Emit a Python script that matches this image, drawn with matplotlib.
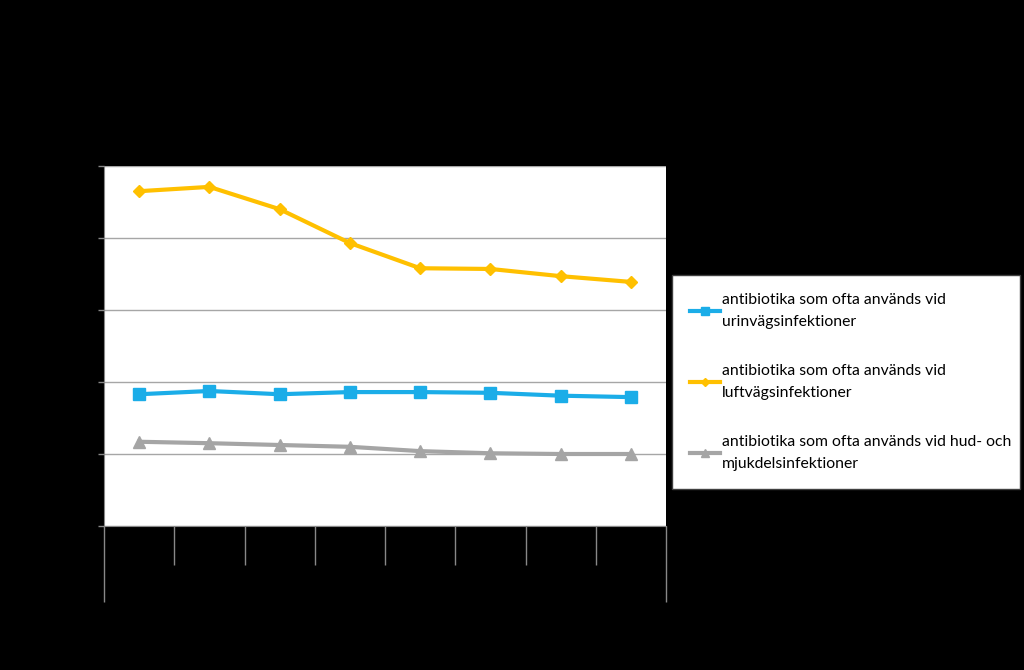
import matplotlib.pyplot as plt
import numpy as np

# kategorier (etiketter syns inte i originalet - svart text på svart bakgrund)
years = ['2007', '2008', '2009', '2010', '2011', '2012', '2013', '2014']
urin = [18.3, 18.75, 18.3, 18.6, 18.6, 18.5, 18.1, 17.9]
luft = [46.5, 47.1, 44.0, 39.3, 35.8, 35.7, 34.7, 33.9]
hud = [11.7, 11.5, 11.25, 11.0, 10.4, 10.1, 10.0, 10.0]

labels = ['antibiotika som ofta används vid\nurinvägsinfektioner',
          'antibiotika som ofta används vid\nluftvägsinfektioner',
          'antibiotika som ofta används vid hud- och\nmjukdelsinfektioner']

plt.rcParams['font.family'] = ['Lato', 'DejaVu Sans']

fig = plt.figure(figsize=(10.24, 6.7), dpi=100, facecolor='black')
ax = fig.add_axes([104 / 1024, 144 / 670, 562 / 1024, 360 / 670])
ax.set_facecolor('white')

x = np.arange(len(years))
l1, = ax.plot(x, urin, color='#1BADE8', lw=3, marker='s', ms=8, label=labels[0])
l2, = ax.plot(x, luft, color='#FFC000', lw=3, marker='D', ms=6.5, label=labels[1])
l3, = ax.plot(x, hud, color='#A5A5A5', lw=3, marker='^', ms=8.5, label=labels[2])

ax.set_xlim(-0.5, len(years) - 0.5)
ax.set_ylim(0, 50)
ax.set_yticks(np.arange(0, 51, 10))
ax.set_yticklabels([])
ax.yaxis.grid(True, color='#A6A6A6', lw=1)
ax.set_axisbelow(True)
ax.tick_params(axis='y', length=4, color='#888888', width=1)

# kategorigränser
ax.set_xticks([-0.5, len(years) - 0.5])
ax.set_xticks(np.arange(0.5, len(years) - 1, 1), minor=True)
ax.set_xticklabels([])
ax.tick_params(axis='x', which='major', length=55, color='#888888', width=1)
ax.tick_params(axis='x', which='minor', length=28, color='#888888', width=1)

for s in ['top', 'right']:
    ax.spines[s].set_visible(False)
for s in ['left', 'bottom']:
    ax.spines[s].set_color('#888888')

leg = fig.legend(handles=[l1, l2, l3], loc='upper left',
                 bbox_to_anchor=(672 / 1024, (670 - 275) / 670, 348 / 1024, 0),
                 mode='expand', frameon=True, fancybox=False, fontsize=11.3,
                 handlelength=1.9, handletextpad=0.15, labelspacing=2.25,
                 borderpad=1.15, borderaxespad=0, markerscale=0.7)
for t in leg.get_texts():
    t.set_linespacing(1.7)
leg.get_frame().set_edgecolor('#404040')
leg.get_frame().set_facecolor('white')
leg.get_frame().set_alpha(1)

fig.savefig('out.png', dpi=100, facecolor='black')
